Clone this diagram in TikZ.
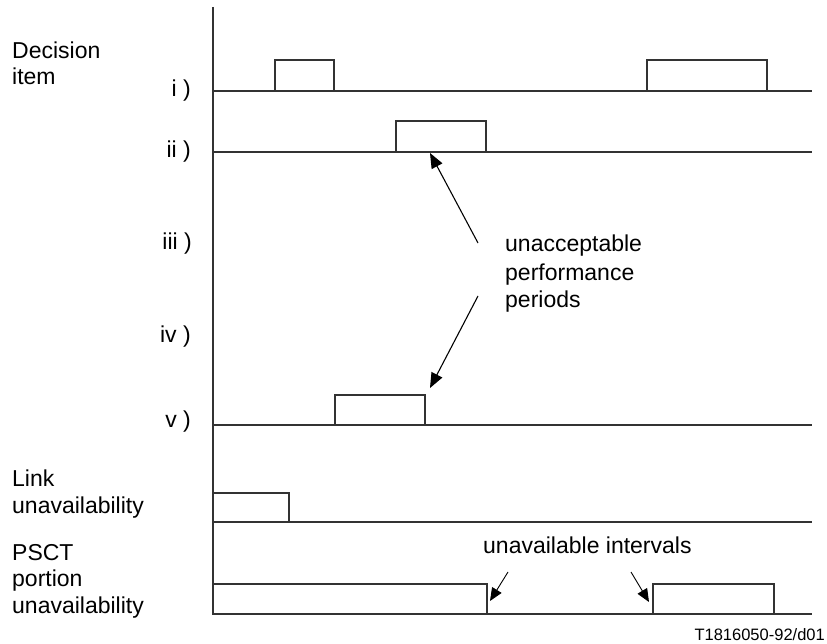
\documentclass[tikz,border=0pt]{standalone}
\usepackage{fontspec}
\setmainfont{Liberation Sans}
\usetikzlibrary{arrows.meta}
\begin{document}
\begin{tikzpicture}[x=1pt,y=-1pt,
  lbl/.style={inner sep=0pt, anchor=base west, align=left, font=\fontsize{23}{26.5}\selectfont},
  rom/.style={inner sep=0pt, anchor=base east, font=\fontsize{23}{26.5}\selectfont},
  sig/.style={draw=black!80, line width=1.3pt},
  ptr/.style={draw=black, line width=1.1pt, -{Triangle[length=15pt,width=12pt]}},
  sptr/.style={draw=black, line width=0.9pt, -{Triangle[length=13pt,width=11pt]}}]
\useasboundingbox (0,0) rectangle (827,644);
% axis
\draw[sig] (213,7) -- (213,614);
% baselines
\draw[sig] (213,91) -- (812,91);
\draw[sig] (213,152) -- (812,152);
\draw[sig] (213,425) -- (812,425);
\draw[sig] (213,522) -- (812,522);
\draw[sig] (213,614) -- (812,614);
% pulses
\draw[sig] (275,91) rectangle (334,60);
\draw[sig] (647,91) rectangle (767,60);
\draw[sig] (396,152) rectangle (486,121);
\draw[sig] (335,425) rectangle (425,395);
\draw[sig] (213,522) rectangle (289,493);
\draw[sig] (213,614) rectangle (487,584);
\draw[sig] (653,614) rectangle (774,584);
% labels (base anchor = last line's baseline)
\node[lbl] (dec) at (12,85) {Decision\\item};
\node[rom] (r1) at (191,97) {i )};
\node[rom] (r2) at (191,158) {ii )};
\node[rom] (r3) at (192,250) {iii )};
\node[rom] (r4) at (191,342) {iv )};
\node[rom] (r5) at (191,427) {v )};
\node[lbl] (link) at (12,513) {Link\\unavailability};
\node[lbl] (psct) at (12,613) {PSCT\\portion\\unavailability};
\node[lbl, font=\fontsize{23}{28}\selectfont] (uap) at (505,308) {unacceptable\\performance\\periods};
\node[lbl] (uai) at (483,553) {unavailable intervals};
\node[inner sep=0pt, anchor=base east, font=\fontsize{16.5}{20}\selectfont] (code) at (825,640) {T1816050-92/d01};
% pointers
\coordinate (a1s) at (478,243);
\coordinate (a1e) at (430,153);
\coordinate (a2s) at (478,296);
\coordinate (a2e) at (430,388);
\coordinate (a3s) at (508,572);
\coordinate (a3e) at (490,601);
\coordinate (a4s) at (631,572);
\coordinate (a4e) at (649,602);
\draw[ptr] (a1s) -- (a1e);
\draw[ptr] (a2s) -- (a2e);
\draw[sptr] (a3s) -- (a3e);
\draw[sptr] (a4s) -- (a4e);
\end{tikzpicture}
\end{document}
